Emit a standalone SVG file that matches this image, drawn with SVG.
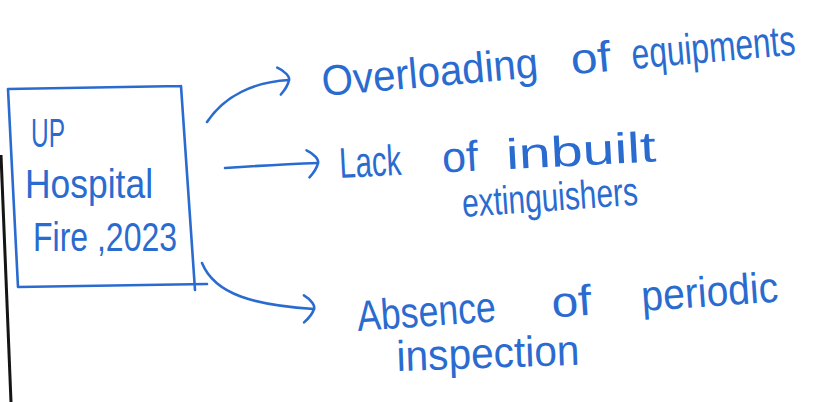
<svg xmlns="http://www.w3.org/2000/svg" width="815" height="402" viewBox="0 0 815 402">
  <style>
    .ink { fill: none; stroke: #2a6bd0; stroke-width: 2.6; stroke-linecap: round; stroke-linejoin: round; }
    .hand { font-family: "Liberation Sans", Arial, sans-serif; fill: #2a6bd0; }
    .big { font-size: 43px; }
    .box { font-size: 40px; }
  </style>
  <defs>
    <marker id="head" markerUnits="userSpaceOnUse" viewBox="-16 -18 22 36" refX="0" refY="0" markerWidth="22" markerHeight="36" orient="auto">
      <path d="M-11,-13 C-3,-9 1,-3 0,0 C-1,4 -4,9 -9,14" fill="none" stroke="#2a6bd0" stroke-width="2.6" stroke-linecap="round"/>
    </marker>
  </defs>

  <rect width="815" height="402" fill="#ffffff"/>

  <!-- page margin rule -->
  <path d="M1,155 L11,402" stroke="#151515" stroke-width="3" fill="none"/>

  <!-- source node -->
  <g id="node-fire">
    <path class="ink" d="M8,89 L181,86 M8,89 L18,287 L207,284 M181,86 L195,290"/>
    <text class="hand" font-size="40" x="31" y="147" textLength="34" lengthAdjust="spacingAndGlyphs">UP</text>
    <text class="hand box" x="25" y="198" textLength="128" lengthAdjust="spacingAndGlyphs">Hospital</text>
    <text class="hand box" x="33" y="251" textLength="144" lengthAdjust="spacingAndGlyphs">Fire ,2023</text>
  </g>

  <!-- connectors -->
  <g id="connectors">
    <path class="ink" d="M207,122 C225,95 255,82 289,80" marker-end="url(#head)"/>
    <path class="ink" d="M225,168 C255,166 290,164 318,163" marker-end="url(#head)"/>
    <path class="ink" d="M202,263 C215,295 255,305 314,309" marker-end="url(#head)"/>
  </g>

  <!-- causes -->
  <g id="node-overloading">
    <text class="hand big" transform="rotate(-5 323 96)" x="323" y="96"><tspan textLength="217" lengthAdjust="spacingAndGlyphs">Overloading</tspan> <tspan x="573" textLength="40" lengthAdjust="spacingAndGlyphs">of</tspan> <tspan x="634" textLength="164" lengthAdjust="spacingAndGlyphs">equipments</tspan></text>
  </g>
  <g id="node-extinguishers">
    <text class="hand big" transform="rotate(-3 340 178)" x="340" y="178"><tspan textLength="62" lengthAdjust="spacingAndGlyphs">Lack</tspan> <tspan x="443" textLength="36" lengthAdjust="spacingAndGlyphs">of</tspan> <tspan x="507" textLength="150" lengthAdjust="spacingAndGlyphs">inbuilt</tspan></text>
    <text class="hand" font-size="40" transform="rotate(-4 463 217)" x="463" y="217" textLength="176" lengthAdjust="spacingAndGlyphs">extinguishers</text>
  </g>
  <g id="node-inspection">
    <text class="hand big" transform="rotate(-4 358 331)" x="358" y="331"><tspan textLength="139" lengthAdjust="spacingAndGlyphs">Absence</tspan> <tspan x="553" textLength="40" lengthAdjust="spacingAndGlyphs">of</tspan> <tspan x="643" textLength="137" lengthAdjust="spacingAndGlyphs">periodic</tspan></text>
    <text class="hand big" transform="rotate(-2 397 371)" x="397" y="371" textLength="183" lengthAdjust="spacingAndGlyphs">inspection</text>
  </g>
</svg>
